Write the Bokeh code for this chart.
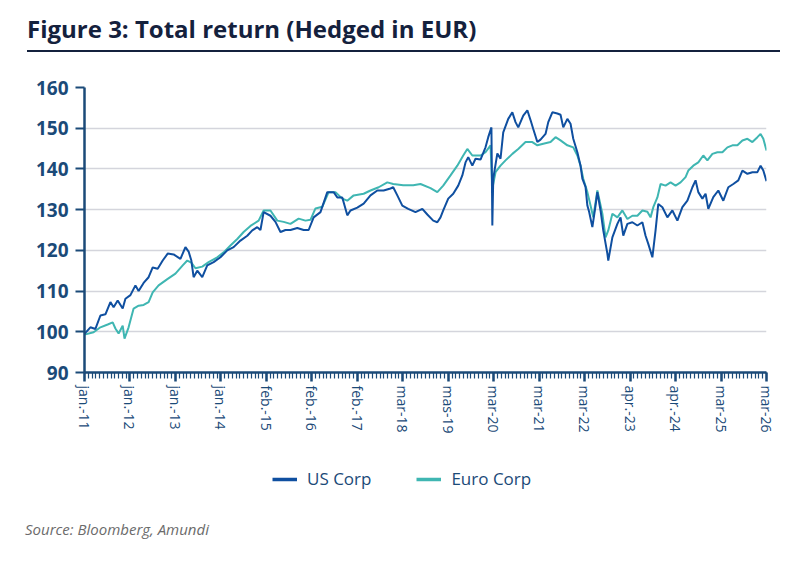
from bokeh.plotting import figure
from bokeh.models import Range1d, FixedTicker, Legend, LegendItem, Div
from bokeh.layouts import column
from bokeh.embed import file_html
from bokeh.resources import INLINE

# x positions are expressed in "label periods" (0 = jan.-11, 15 = mar-26)
tick_labels = ["jan.-11", "jan.-12", "jan.-13", "jan.-14", "feb.-15", "feb.-16", "feb.-17", "mar-18",
               "mas-19", "mar-20", "mar-21", "mar-22", "apr.-23", "apr.-24", "mar-25", "mar-26"]
y_ticks = [90, 100, 110, 120, 130, 140, 150, 160]

us_t = [0, 0.13, 0.24, 0.35, 0.46, 0.57, 0.64, 0.73, 0.84, 0.90, 1.01, 1.12, 1.19, 1.30, 1.41, 1.50,
        1.61, 1.72, 1.83, 1.96, 2.11, 2.22, 2.29, 2.35, 2.40, 2.48, 2.59, 2.70, 2.84, 2.99, 3.14, 3.28,
        3.43, 3.58, 3.69, 3.80, 3.87, 3.94, 4.09, 4.20, 4.31, 4.42, 4.53, 4.68, 4.82, 4.93, 5.04, 5.19,
        5.34, 5.48, 5.56, 5.67, 5.78, 5.85, 6.00, 6.14, 6.29, 6.44, 6.58, 6.73, 6.79, 6.88, 6.99, 7.12,
        7.28, 7.43, 7.54, 7.67, 7.76, 7.83, 7.89, 8.00, 8.11, 8.22, 8.31, 8.38, 8.44, 8.53, 8.60, 8.71,
        8.82, 8.88, 8.95, 8.97, 8.99, 9.08, 9.15, 9.21, 9.32, 9.41, 9.48, 9.54, 9.65, 9.74, 9.81, 9.87,
        9.96, 10.03, 10.14, 10.20, 10.29, 10.40, 10.47, 10.53, 10.62, 10.69, 10.75, 10.84, 10.91, 10.95,
        11.02, 11.06, 11.10, 11.17, 11.24, 11.28, 11.35, 11.41, 11.50, 11.52, 11.61, 11.72, 11.79, 11.85,
        11.94, 12.05, 12.16, 12.27, 12.34, 12.40, 12.49, 12.56, 12.62, 12.71, 12.82, 12.93, 13.04, 13.15,
        13.26, 13.37, 13.44, 13.50, 13.59, 13.66, 13.72, 13.83, 13.94, 14.05, 14.16, 14.27, 14.38, 14.47,
        14.58, 14.69, 14.80, 14.87, 14.93, 15.00]
us_corp = [99.5, 101.1, 100.7, 104.0, 104.3, 107.3, 106.0, 107.7, 105.7, 108.1, 109.0, 111.4, 110.0, 112.0, 113.4, 115.8,
           115.5, 117.5, 119.2, 119.0, 117.9, 120.8, 119.7, 117.5, 113.4, 115.0, 113.4, 116.3, 117.1, 118.3, 120.0, 120.8,
           122.4, 123.6, 124.9, 125.7, 125.0, 129.4, 128.5, 127.0, 124.5, 125.0, 125.0, 125.5, 125.0, 125.0, 128.1, 129.4,
           134.3, 134.3, 133.0, 133.0, 128.6, 129.8, 130.5, 131.5, 133.5, 134.7, 134.7, 135.2, 135.5, 133.5, 131.0, 130.2,
           129.4, 130.2, 128.8, 127.3, 126.9, 128.1, 129.8, 132.7, 133.9, 135.9, 138.4, 141.6, 142.9, 140.8, 142.5, 142.3,
           145.3, 147.8, 150.2, 126.1, 137.6, 143.8, 142.5, 149.0, 152.3, 153.9, 151.5, 150.2, 153.1, 154.4, 152.0, 149.8,
           146.6, 147.2, 148.6, 151.5, 153.9, 153.6, 153.3, 150.2, 152.3, 151.1, 147.4, 144.1, 140.8, 137.6,
           135.6, 131.0, 129.4, 125.7, 131.0, 134.3, 129.8, 124.9, 119.2, 117.5, 123.2, 126.5, 128.1, 123.6,
           126.5, 126.9, 126.1, 126.9, 123.6, 121.6, 118.3, 124.9, 131.4, 130.6, 128.1, 129.8, 127.3, 130.6,
           132.2, 135.5, 137.2, 134.3, 132.7, 133.9, 130.2, 133.1, 134.7, 132.2, 135.5, 136.3, 137.2, 139.6,
           138.8, 139.2, 139.2, 140.8, 139.6, 137.0]

euro_t = [0, 0.20, 0.35, 0.51, 0.62, 0.68, 0.75, 0.84, 0.88, 0.97, 1.08, 1.19, 1.30, 1.41, 1.50, 1.63,
          1.83, 2.00, 2.16, 2.26, 2.35, 2.44, 2.59, 2.73, 2.92, 3.06, 3.21, 3.36, 3.50, 3.65, 3.83, 3.94,
          4.09, 4.24, 4.38, 4.53, 4.71, 4.86, 4.97, 5.08, 5.23, 5.37, 5.52, 5.67, 5.78, 5.92, 6.14, 6.29,
          6.47, 6.66, 6.79, 7.01, 7.23, 7.39, 7.61, 7.76, 7.89, 8.05, 8.20, 8.33, 8.42, 8.53, 8.71, 8.82,
          8.93, 8.97, 9.04, 9.15, 9.26, 9.41, 9.54, 9.70, 9.85, 9.96, 10.09, 10.25, 10.36, 10.47, 10.62,
          10.75, 10.84, 10.91, 10.97, 11.06, 11.13, 11.19, 11.28, 11.39, 11.46, 11.52, 11.61, 11.72, 11.83,
          11.94, 12.05, 12.16, 12.27, 12.38, 12.45, 12.51, 12.60, 12.67, 12.78, 12.89, 13.00, 13.11, 13.22,
          13.28, 13.39, 13.50, 13.61, 13.70, 13.81, 13.92, 14.03, 14.14, 14.25, 14.36, 14.47, 14.58, 14.69,
          14.80, 14.87, 14.93, 15.00]
euro_corp = [99.3, 99.9, 101.1, 101.8, 102.3, 100.8, 99.6, 101.5, 98.3, 101.1, 105.7, 106.4, 106.6, 107.3, 109.7, 111.4,
             113.0, 114.3, 116.3, 117.5, 117.0, 115.6, 116.0, 117.1, 118.3, 119.5, 121.2, 122.8, 124.5, 126.0, 127.3, 129.8,
             129.8, 127.3, 127.0, 126.5, 127.8, 127.3, 127.5, 130.3, 130.7, 134.3, 134.3, 132.7, 132.2, 133.5, 133.9, 134.7,
             135.5, 136.7, 136.3, 136.0, 136.0, 136.3, 135.3, 134.3, 135.9, 138.4, 140.8, 143.3, 144.9, 143.3, 143.3, 144.1,
             145.8, 135.2, 139.2, 140.8, 142.1, 143.7, 144.9, 146.6, 146.6, 145.8, 146.2, 146.6, 147.8, 147.0, 145.8,
             145.3, 143.3, 140.8, 137.6, 134.3, 131.0, 128.1, 134.7, 129.0, 123.2, 124.9, 129.0, 128.1, 129.8,
             127.7, 128.5, 128.5, 129.8, 129.5, 128.1, 130.6, 133.0, 136.3, 135.9, 136.7, 135.9, 136.7, 138.0,
             139.6, 140.8, 141.6, 143.3, 142.1, 143.7, 144.1, 144.1, 145.3, 145.8, 145.8, 147.0, 147.4, 146.6,
             147.8, 148.6, 147.4, 144.5]

NAVY = "#14213d"
AXIS = "#1b4a78"
US_COLOR = "#0f4fa0"
EURO_COLOR = "#3fb6b2"
FONT = "Open Sans"

header = Div(width=784, height=52, margin=0,
             text=('<div style="margin-left:27px;width:753px;height:52px;box-sizing:border-box;'
                   'border-bottom:2px solid %s;font-family:\'Open Sans\';font-weight:bold;'
                   'font-size:24px;line-height:28px;padding-top:15px;color:%s;white-space:nowrap;">'
                   'Figure 3: Total return (Hedged in EUR)</div>') % (NAVY, NAVY))

p = figure(width=784, height=408, output_backend="svg", toolbar_location=None,
           x_range=Range1d(0, 15), y_range=Range1d(90, 160),
           min_border_left=84, min_border_right=18, min_border_top=35, min_border_bottom=88)
p.outline_line_color = None

r_eu = p.line(euro_t, euro_corp, line_color=EURO_COLOR, line_width=2)
r_us = p.line(us_t, us_corp, line_color=US_COLOR, line_width=2)

# y axis
p.yaxis.ticker = FixedTicker(ticks=y_ticks)
p.yaxis.axis_line_color = AXIS
p.yaxis.axis_line_width = 2.5
p.yaxis.major_tick_line_color = AXIS
p.yaxis.major_tick_line_width = 2
p.yaxis.major_tick_out = 9
p.yaxis.major_tick_in = 0
p.yaxis.minor_tick_line_color = None
p.yaxis.major_label_standoff = 7
p.yaxis.major_label_text_font = FONT
p.yaxis.major_label_text_font_style = "bold"
p.yaxis.major_label_text_font_size = "19px"
p.yaxis.major_label_text_color = AXIS

# x axis, monthly minor ticks
p.xaxis.ticker = FixedTicker(ticks=list(range(len(tick_labels))),
                             minor_ticks=[k / 12 for k in range(12 * 15 + 1)])
p.xaxis.major_label_overrides = {i: lab for i, lab in enumerate(tick_labels)}
p.xaxis.major_label_orientation = "vertical"
p.xaxis.axis_line_color = AXIS
p.xaxis.axis_line_width = 2.5
p.xaxis.major_tick_line_color = AXIS
p.xaxis.major_tick_line_width = 2.5
p.xaxis.major_tick_out = 9
p.xaxis.major_tick_in = 0
p.xaxis.minor_tick_line_color = AXIS
p.xaxis.minor_tick_line_width = 1.2
p.xaxis.minor_tick_out = 6
p.xaxis.minor_tick_in = 0
p.xaxis.major_label_standoff = 4
p.xaxis.major_label_text_font = FONT
p.xaxis.major_label_text_font_size = "14px"
p.xaxis.major_label_text_color = AXIS

p.xgrid.grid_line_color = None
p.ygrid.ticker = FixedTicker(ticks=y_ticks)
p.ygrid.grid_line_color = "#d4d5dc"
p.ygrid.grid_line_width = 1.5

# legend strip: its own small figure whose frame is the whole strip;
# the series sit outside its ranges, so only the legend keys show
lg = figure(width=784, height=40, output_backend="svg", toolbar_location=None,
            x_axis_location=None, y_axis_location=None,
            min_border=0, min_border_left=0, min_border_right=0,
            min_border_top=0, min_border_bottom=0,
            x_range=Range1d(0, 1), y_range=Range1d(0, 1))
lg.outline_line_color = None
lg.grid.grid_line_color = None
k_us = lg.line(us_t, us_corp, line_color=US_COLOR, line_width=3.5)
k_eu = lg.line(euro_t, euro_corp, line_color=EURO_COLOR, line_width=3.5)
legend = Legend(items=[LegendItem(label="US Corp", renderers=[k_us]),
                       LegendItem(label="Euro Corp", renderers=[k_eu])],
                orientation="horizontal", location=(188, 10),
                glyph_width=25, glyph_height=20, label_height=20, label_standoff=10,
                spacing=45, padding=0, margin=0, border_line_color=None,
                background_fill_alpha=0, label_text_font=FONT,
                label_text_font_size="17px", label_text_color=AXIS)
lg.add_layout(legend, "center")

source = Div(width=784, height=65, margin=0,
             text=('<div style="margin-left:25px;padding-top:19px;font-family:\'Open Sans\';'
                   'font-style:italic;font-size:15px;line-height:20px;color:#6b6b6b;white-space:nowrap;">'
                   'Source: Bloomberg, Amundi</div>'))

layout = column(header, p, lg, source, spacing=0)
open("out.html", "w").write(file_html(layout, INLINE))
